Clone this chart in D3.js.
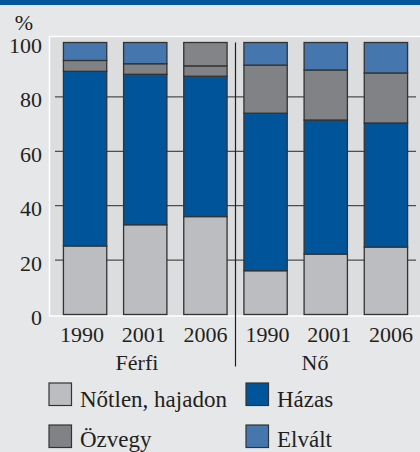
<!DOCTYPE html>
<html>
<head>
<meta charset="utf-8">
<script src="https://cdn.jsdelivr.net/npm/d3@7"></script>
<style>
  html, body { margin: 0; padding: 0; background: #e6e7e8; }
  svg { display: block; font-family: "Liberation Serif", "DejaVu Serif", serif; }
</style>
</head>
<body>
<div class="chart"></div>
<script>
// data (percent of population by marital status)
const years = ['1990', '2001', '2006', '1990', '2001', '2006']
const groups = ['Férfi', 'Nő']
const categories = ['Nőtlen, hajadon', 'Házas', 'Özvegy', 'Elvált']
const notlen = [25.2, 33.0, 36.0, 16.1, 22.2, 24.8]
const hazas = [64.2, 55.3, 51.6, 57.9, 49.3, 45.6]
const ozvegy = [4.0, 3.9, 3.8, 17.7, 18.4, 18.4]
const elvalt = [6.6, 7.8, 8.6, 8.3, 10.1, 11.2]
const yTicks = [0, 20, 40, 60, 80, 100]

const width = 420, height = 452
const colors = ['#bcbdc0', '#00559a', '#818285', '#4676ae']

const svg = d3.select('.chart').append('svg').attr('width', width).attr('height', height)

// header strip
svg.append('rect').attr('x', 0).attr('y', 0).attr('width', width).attr('height', 5).attr('fill', '#00579a')

// plot panel
svg.append('rect')
  .attr('x', 49.5).attr('y', 36.5).attr('width', 400).attr('height', 279.5)
  .attr('fill', '#dcdddf').attr('stroke', '#ffffff').attr('stroke-width', 1.5)

const idx = d3.range(years.length)
const xScale = d3.scaleBand().domain(idx).range([55, 416]).paddingInner(0.28).paddingOuter(0.14)
const yScale = d3.scaleLinear().domain([0, 100]).range([314.5, 42.5])

// gridlines
svg.append('g').selectAll('line')
  .data(yTicks.filter(d => d > 0 && d < 100))
  .enter().append('line')
  .attr('x1', 55).attr('x2', 416)
  .attr('y1', d => yScale(d)).attr('y2', d => yScale(d))
  .attr('stroke', '#2b2b2b').attr('stroke-width', 1)

// y labels
svg.append('g').selectAll('text')
  .data(yTicks).enter().append('text')
  .attr('x', 42).attr('y', d => yScale(d)).attr('dy', '0.48em')
  .attr('text-anchor', 'end').attr('font-size', 22).attr('fill', '#231f20')
  .text(d => d)
svg.append('text').attr('x', 24).attr('y', 29.5).attr('text-anchor', 'middle')
  .attr('font-size', 22).attr('fill', '#231f20').text('%')

// stacked bars
const rows = idx.map(i => ({ i: i, 'Nőtlen, hajadon': notlen[i], 'Házas': hazas[i], 'Özvegy': ozvegy[i], 'Elvált': elvalt[i] }))
const stacked = d3.stack().keys(categories)(rows)
stacked.forEach((layer, k) => {
  svg.append('g').selectAll('rect')
    .data(layer).enter().append('rect')
    .attr('x', d => xScale(d.data.i))
    .attr('width', xScale.bandwidth())
    .attr('y', d => yScale(d[1]))
    .attr('height', d => yScale(d[0]) - yScale(d[1]))
    // the reference prints the men's 2006 "Elvált" block in gray
    .attr('fill', d => (layer.key === 'Elvált' && d.data.i === 2) ? '#838487' : colors[k])
    .attr('stroke', '#333333').attr('stroke-width', 1.3)
})

// divider between the two groups
const divX = (xScale(2) + xScale.bandwidth() + xScale(3)) / 2
svg.append('line').attr('x1', divX).attr('x2', divX).attr('y1', 42.5).attr('y2', 366.5)
  .attr('stroke', '#231f20').attr('stroke-width', 1.2)

// year labels
const labelScale = d3.scalePoint().domain(idx).range([82, 391])
svg.append('g').selectAll('text')
  .data(idx).enter().append('text')
  .attr('x', d => labelScale(d)).attr('y', 342)
  .attr('text-anchor', 'middle').attr('font-size', 22).attr('fill', '#231f20')
  .text(d => years[d])

// group labels
const groupScale = d3.scalePoint().domain(groups).range([137, 315])
svg.append('g').selectAll('text')
  .data(groups).enter().append('text')
  .attr('x', d => groupScale(d)).attr('y', 370)
  .attr('text-anchor', 'middle').attr('font-size', 22).attr('fill', '#231f20')
  .text(d => d)

// legend, two columns
const legend = svg.append('g').selectAll('g')
  .data(categories).enter().append('g')
  .attr('transform', (d, k) => 'translate(' + (k % 2 === 0 ? 49 : 246) + ',' + (k < 2 ? 383 : 425) + ')')
legend.append('rect').attr('width', 22.5).attr('height', 22.5)
  .attr('fill', (d, k) => colors[k]).attr('stroke', '#333333').attr('stroke-width', 1.2)
legend.append('text').attr('x', 31).attr('y', (d, k) => k < 2 ? 23.5 : 21.5)
  .attr('font-size', 23).attr('fill', '#231f20')
  .text(d => d)
</script>
</body>
</html>
